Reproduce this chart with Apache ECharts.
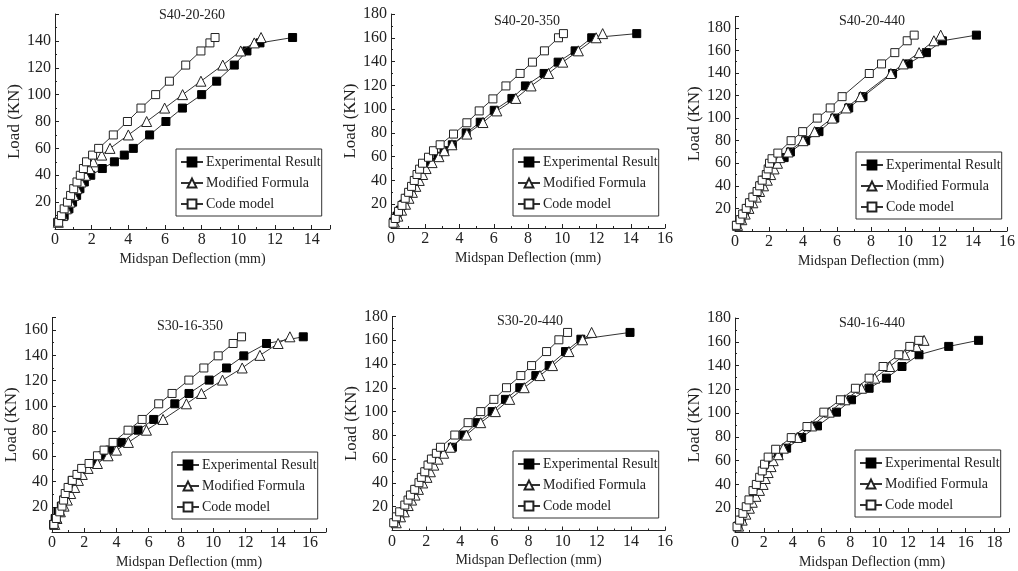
<!DOCTYPE html>
<html><head><meta charset="utf-8">
<script src="https://cdn.jsdelivr.net/npm/echarts@6/dist/echarts.min.js"></script>
<style>html,body{margin:0;padding:0;background:#fff}#c{width:1018px;height:571px}</style>
</head><body><div id="c"></div><script>
// ---- data ----
const seriesNames = ['Experimental Result', 'Modified Formula', 'Code model'];
const panelTitles = ['S40-20-260', 'S40-20-350', 'S40-20-440', 'S30-16-350', 'S30-20-440', 'S40-16-440'];
const xAxisMax = [15, 16, 16, 17, 16, 19];
const yAxisMax = [160, 180, 190, 170, 180, 180];
const xAxisName = 'Midspan Deflection (mm)';
const yAxisName = 'Load (KN)';

const p1Exp = [[0.15,5],[0.5,10],[0.76,15],[0.96,20],[1.18,25],[1.36,30],[1.6,35],[1.95,40],[2.58,45],[3.24,50],[3.78,55],[4.27,60],[5.16,70],[6.05,80],[6.95,90],[8.0,100],[8.82,110],[9.78,122],[10.47,132.5],[11.18,138.5],[12.96,142.5]];
const p1Mod = [[0.18,5],[0.42,10],[0.62,15],[0.82,20],[1.02,25],[1.2,30],[1.42,35],[1.66,40],[1.88,45],[2.09,50],[2.55,55],[3.0,60],[4.0,70],[5.0,80],[5.98,90],[6.96,100],[7.96,110],[9.15,122],[10.13,132.5],[10.87,138.5],[11.24,142.5]];
const p1Code = [[0.2,5],[0.35,10],[0.5,15],[0.68,20],[0.85,25],[1.02,30],[1.2,35],[1.38,40],[1.55,45],[1.72,50],[2.05,55],[2.38,60],[3.18,70],[3.95,80],[4.69,90],[5.49,100],[6.24,110],[7.13,122],[7.96,132.5],[8.45,138.5],[8.73,142.5]];

const p2Exp = [[0.15,5],[0.35,10],[0.55,15],[0.75,20],[0.95,25],[1.15,30],[1.35,35],[1.55,40],[1.7,45],[1.87,50],[2.29,55],[2.74,60],[3.1,65],[3.58,70],[4.39,80],[5.21,89],[6.03,99],[7.06,109],[7.85,119.5],[8.94,130],[9.76,139.5],[10.75,149],[11.72,160],[14.35,163.5]];
const p2Mod = [[0.2,5],[0.4,10],[0.62,15],[0.85,20],[1.05,25],[1.25,30],[1.45,35],[1.65,40],[1.85,45],[2.05,50],[2.4,55],[2.8,60],[3.11,65],[3.56,70],[4.43,79],[5.37,88.7],[6.18,98.5],[7.29,109],[8.18,119.5],[9.2,130],[10.03,139.5],[10.94,149],[11.98,160],[12.36,163.5]];
const p2Code = [[0.12,4],[0.25,8],[0.44,14],[0.64,19],[0.83,25],[1.03,30],[1.2,35],[1.36,40],[1.52,45],[1.67,49.5],[1.84,54.5],[2.19,59.5],[2.48,65],[2.87,70],[3.65,79],[4.43,88.5],[5.15,98.5],[5.95,108.6],[6.71,119.5],[7.54,130],[8.26,139.5],[8.96,149],[9.78,160],[10.07,163.5]];

const p3Exp = [[0.1,5],[0.35,10],[0.55,15],[0.75,20],[0.95,25],[1.15,30],[1.32,35],[1.5,40],[1.68,45],[1.88,50],[2.1,55],[2.4,60],[2.89,65],[3.26,70],[4.16,80],[4.94,88],[5.87,100],[6.69,109],[7.53,119],[9.27,139.5],[10.19,148],[11.26,158],[12.2,168.5],[14.2,173.5]];
const p3Mod = [[0.15,5],[0.4,10],[0.6,15],[0.82,20],[1.05,25],[1.25,30],[1.45,35],[1.68,40],[1.9,45],[2.1,50],[2.3,55],[2.5,60],[2.63,65],[3.12,70],[4.0,80],[4.68,88],[5.72,100],[6.54,109],[7.38,119],[9.17,139.5],[9.89,148],[10.83,158],[11.7,168.5],[12.1,173.5]];
const p3Code = [[0.08,5],[0.3,10],[0.45,15],[0.66,20],[0.85,25],[1.05,30],[1.3,35],[1.45,40],[1.6,45],[1.84,50],[1.95,55],[2.03,60],[2.18,64],[2.52,69],[3.3,80],[3.98,88],[4.84,100],[5.6,109],[6.3,119],[7.9,139.5],[8.62,148],[9.4,158],[10.13,168.5],[10.54,173.5]];

const p4Exp = [[0.1,6],[0.2,10.7],[0.37,16],[0.58,20.5],[0.72,25.3],[0.89,30.5],[1.1,35.3],[1.26,40.9],[1.61,45.6],[2.55,54.3],[3.13,60.4],[3.58,64.9],[4.3,71],[5.34,80.7],[6.31,89.2],[7.62,101.6],[8.5,109.8],[9.75,120.4],[10.83,130],[11.9,139.6],[13.31,149.4],[15.59,154.7]];
const p4Mod = [[0.17,6],[0.31,10.7],[0.52,16],[0.75,20.5],[0.95,25.3],[1.16,30.5],[1.41,35.3],[1.64,40.9],[1.88,45.6],[2.24,50.4],[2.82,54.3],[3.48,60.4],[4.0,64.9],[4.74,71],[5.86,80.7],[6.89,89.2],[8.34,101.6],[9.27,109.8],[10.58,120.4],[11.8,130],[12.9,140],[14.03,149.4],[14.76,154.7]];
const p4Code = [[0.12,6],[0.27,10.7],[0.48,16],[0.62,20.5],[0.72,25.3],[0.82,30.5],[1.0,35.3],[1.26,40.9],[1.55,45.6],[1.84,50.4],[2.3,54.3],[2.82,60.4],[3.23,64.9],[3.79,71],[4.72,80.7],[5.59,89.2],[6.62,101.6],[7.45,109.8],[8.49,120.4],[9.42,130],[10.31,139.6],[11.24,149.4],[11.76,154.7]];

const p5Exp = [[0.2,6.5],[0.45,11.5],[0.65,15.7],[0.85,21],[1.05,25.6],[1.2,29.8],[1.45,34.6],[1.65,40],[1.85,44.7],[2.05,49.4],[2.2,55],[2.45,60],[2.8,65],[3.54,70],[4.21,80.3],[5.0,90.7],[5.87,100],[6.65,110.3],[7.49,120.1],[8.43,130.3],[9.21,138.7],[10.17,150.5],[11.07,160.9],[13.95,166.6]];
const p5Mod = [[0.25,6.5],[0.5,11.5],[0.72,15.7],[0.95,21],[1.15,25.6],[1.35,29.8],[1.55,34.6],[1.8,40],[2.05,44.7],[2.25,49.4],[2.45,55],[2.7,60],[3.03,65],[3.42,70],[4.36,80.3],[5.2,90.7],[6.06,100],[6.9,110.3],[7.75,120.1],[8.67,130.3],[9.41,138.7],[10.37,150.5],[11.17,160.4],[11.7,166.6]];
const p5Code = [[0.1,6.5],[0.26,11.5],[0.45,15.7],[0.75,21.4],[0.94,25.6],[1.08,29.8],[1.33,34.6],[1.58,40.2],[1.72,44.7],[1.92,49.4],[2.11,55],[2.31,60.1],[2.6,64.9],[2.84,70],[3.68,80.3],[4.46,90.7],[5.2,100],[5.97,110.3],[6.71,120.1],[7.55,130.3],[8.18,138.7],[9.06,150.5],[9.78,160.4],[10.29,166.6]];

const p6Exp = [[0.2,5],[0.45,10],[0.65,15],[0.85,20],[1.05,25],[1.3,30],[1.55,35],[1.75,40],[1.95,45],[2.1,50],[2.3,55],[2.5,60],[3.0,65],[3.58,70.5],[4.62,79.5],[5.72,89.2],[7.04,100.8],[8.08,111.2],[9.3,120.9],[10.5,129.4],[11.58,139.2],[12.76,149.1],[14.82,156.1],[16.89,161.2]];
const p6Mod = [[0.25,5],[0.5,10],[0.75,15],[1.0,20],[1.2,25],[1.45,30],[1.7,35],[1.95,40],[2.1,45],[2.3,50],[2.5,55],[2.65,60],[3.0,65],[3.35,70.5],[4.32,79.5],[5.31,89.2],[6.53,100.8],[7.62,111.2],[8.77,120.9],[9.69,129.4],[10.73,139.2],[11.77,149.1],[12.58,156.1],[13.11,161.2]];
const p6Code = [[0.14,4.5],[0.32,10],[0.55,15.7],[0.78,21.3],[0.97,27],[1.25,34.8],[1.48,40],[1.71,46],[1.89,51.4],[2.05,57],[2.3,63],[2.82,69.6],[3.9,79.4],[4.99,88.7],[6.16,100.8],[7.31,111.2],[8.35,120.9],[9.3,129.4],[10.27,139.2],[11.36,149.1],[12.12,156.1],[12.74,161.2]];

const panelData = [
  [p1Exp, p1Mod, p1Code], [p2Exp, p2Mod, p2Code], [p3Exp, p3Mod, p3Code],
  [p4Exp, p4Mod, p4Code], [p5Exp, p5Mod, p5Code], [p6Exp, p6Mod, p6Code]
];

// ---- layout (pixels) ----
const grids = [
  {left: 55, top: 14, width: 275, height: 215},
  {left: 391, top: 14, width: 274, height: 214},
  {left: 735, top: 16.5, width: 273, height: 214.5},
  {left: 52, top: 317.5, width: 274, height: 214.5},
  {left: 392, top: 316.5, width: 273, height: 214},
  {left: 735, top: 318, width: 274, height: 214}
];
const titlePos = [[192, 8], [527, 14], [872, 14], [190, 319], [530, 314], [872, 316]];
const legendPos = [[176, 149], [513, 149], [856, 152], [172, 452], [513, 451], [855, 450]];

const FONT = '"Liberation Serif", "Times New Roman", serif';
const INK = '#222';

const option = {
  animation: false,
  backgroundColor: '#fff',
  title: panelTitles.map((t, i) => ({
    text: t, left: titlePos[i][0], top: titlePos[i][1], textAlign: 'center', padding: 0,
    textStyle: {fontFamily: FONT, fontSize: 14, fontWeight: 'normal', color: INK}
  })),
  legend: legendPos.map((p) => ({
    data: seriesNames, left: p[0], top: p[1], orient: 'vertical',
    borderColor: '#333', borderWidth: 1, padding: [6, 1, 5, 4], itemGap: 7,
    itemWidth: 22, itemHeight: 11, selectedMode: false, backgroundColor: '#fff',
    textStyle: {fontFamily: FONT, fontSize: 14, color: INK, padding: [0, 0, 0, -2]}
  })),
  grid: grids.map(g => Object.assign({containLabel: false}, g)),
  xAxis: grids.map((g, i) => ({
    gridIndex: i, type: 'value', min: 0, max: xAxisMax[i], interval: 2,
    name: xAxisName, nameLocation: 'middle', nameGap: 23,
    nameTextStyle: {fontFamily: FONT, fontSize: 14, color: INK},
    axisLine: {show: true, onZero: false, lineStyle: {color: '#222', width: 1}},
    axisTick: {show: true, inside: true, length: 4, lineStyle: {color: '#222'}},
    minorTick: {show: true, splitNumber: 2, length: 2, lineStyle: {color: '#222'}},
    axisLabel: {fontFamily: FONT, fontSize: 16, color: INK, margin: 3, showMaxLabel: xAxisMax[i] % 2 === 0},
    splitLine: {show: false}
  })),
  yAxis: grids.map((g, i) => ({
    gridIndex: i, type: 'value', min: 0, max: yAxisMax[i], interval: 20,
    name: yAxisName, nameLocation: 'middle', nameGap: 29, nameRotate: 90,
    nameTextStyle: {fontFamily: FONT, fontSize: 17, color: INK},
    axisLine: {show: true, onZero: false, lineStyle: {color: '#222', width: 1}},
    axisTick: {show: true, inside: true, length: 4, lineStyle: {color: '#222'}},
    minorTick: {show: true, splitNumber: 2, length: 2, lineStyle: {color: '#222'}},
    axisLabel: {fontFamily: FONT, fontSize: 16, color: INK, margin: 4, showMinLabel: false, showMaxLabel: yAxisMax[i] === 180},
    splitLine: {show: false}
  })),
  series: []
};

const styles = [
  {symbol: 'rect', symbolSize: 8, itemStyle: {color: '#000', borderColor: '#000', borderWidth: 1}},
  {symbol: 'triangle', symbolSize: 10, itemStyle: {color: '#fff', borderColor: '#222', borderWidth: 1}},
  {symbol: 'rect', symbolSize: 8, itemStyle: {color: '#fff', borderColor: '#222', borderWidth: 1}}
];

panelData.forEach((sets, i) => {
  [2, 1, 0].forEach(k => {
    option.series.push({
      name: seriesNames[k], type: 'line', xAxisIndex: i, yAxisIndex: i,
      data: sets[k], symbol: styles[k].symbol, symbolSize: styles[k].symbolSize,
      showSymbol: true, itemStyle: styles[k].itemStyle,
      lineStyle: {color: '#333', width: 1}, z: 2 + k
    });
  });
});

const chart = echarts.init(document.getElementById('c'), null, {renderer: 'canvas'});
chart.setOption(option);
</script></body></html>
